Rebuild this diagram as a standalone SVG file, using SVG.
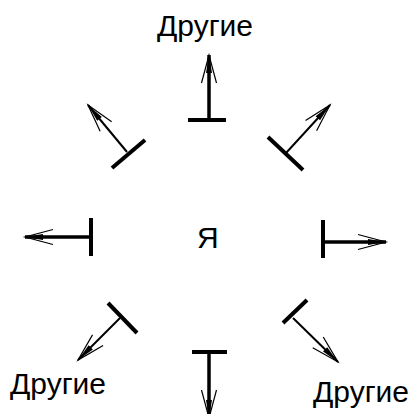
<svg xmlns="http://www.w3.org/2000/svg" width="415" height="414" viewBox="0 0 415 414">
<style>
  .lbl { font-family: "Liberation Sans", Arial, sans-serif; font-size: 30px; fill: #000; }
  .stem { stroke: #000; stroke-width: 3.5; fill: none; marker-end: url(#head); }
  .thin { stroke: #000; stroke-width: 2; fill: none; marker-end: url(#head); }
  .bar { stroke: #000; stroke-width: 4; fill: none; }
</style>
<defs>
  <marker id="head" markerUnits="userSpaceOnUse" viewBox="-32 -10 34 20" markerWidth="34" markerHeight="20" refX="0" refY="0" orient="auto" overflow="visible">
    <path d="M0,0 L-18,-3 L-18,3 Z" fill="#000"/>
    <path d="M-28,-7.5 L0,0 L-28,7.5" fill="none" stroke="#000" stroke-width="1.2"/>
  </marker>
</defs>
<rect width="415" height="414" fill="#fff"/>
<g id="connectors">
  <g id="arrow-top"><line class="stem" x1="209" y1="120" x2="209" y2="55"/><line class="bar" x1="188" y1="120" x2="226" y2="120"/></g>
  <g id="arrow-bottom"><line class="stem" x1="209" y1="352" x2="209" y2="418"/><line class="bar" x1="192" y1="352" x2="227" y2="352"/></g>
  <g id="arrow-left"><line class="stem" x1="91" y1="237" x2="25" y2="237"/><line class="bar" x1="91" y1="218" x2="91" y2="256"/></g>
  <g id="arrow-right"><line class="stem" x1="323" y1="242" x2="386" y2="242"/><line class="bar" x1="323" y1="220" x2="323" y2="258"/></g>
  <g id="arrow-topleft"><line class="thin" x1="127" y1="152" x2="88" y2="105"/><line class="bar" x1="112" y1="168" x2="145" y2="140"/></g>
  <g id="arrow-topright"><line class="thin" x1="286" y1="153" x2="330" y2="105"/><line class="bar" x1="268" y1="137" x2="303" y2="170"/></g>
  <g id="arrow-bottomleft"><line class="thin" x1="120" y1="318" x2="78" y2="360"/><line class="bar" x1="108" y1="303" x2="137" y2="333"/></g>
  <g id="arrow-bottomright"><line class="thin" x1="293" y1="318" x2="338" y2="362"/><line class="bar" x1="283" y1="323" x2="307" y2="300"/></g>
</g>
<g id="node-self"><text class="lbl" x="197" y="248">Я</text></g>
<g id="node-others-top"><text class="lbl" x="157" y="36">Другие</text></g>
<g id="node-others-left"><text class="lbl" x="10" y="394">Другие</text></g>
<g id="node-others-right"><text class="lbl" x="313" y="402">Другие</text></g>
</svg>
